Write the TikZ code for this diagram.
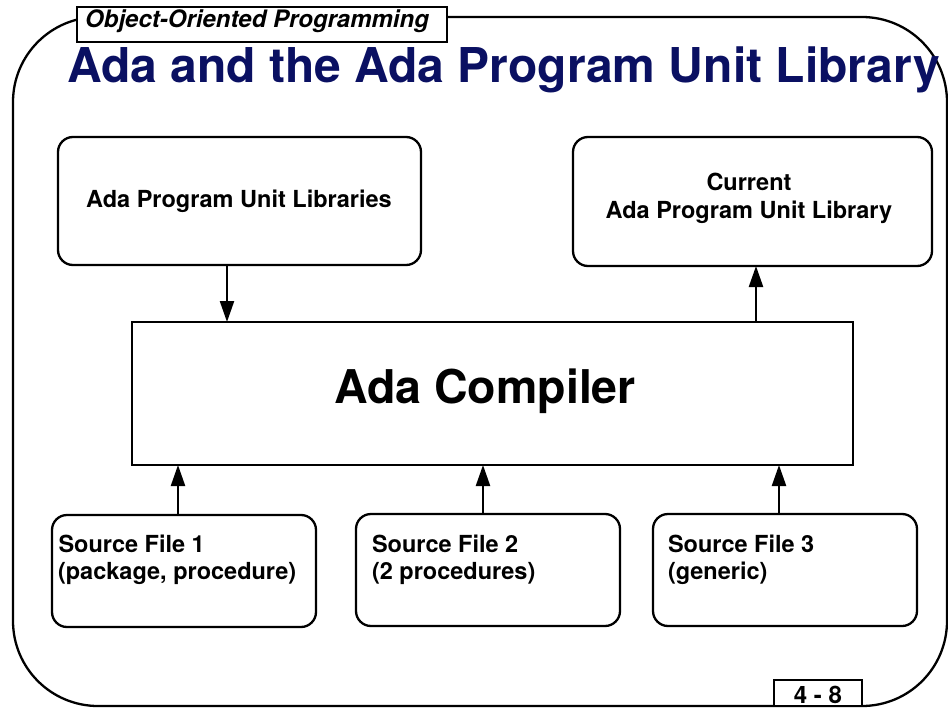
\documentclass[tikz,border=0pt]{standalone}
\usepackage{fontspec}
\setmainfont{TeX Gyre Heros}
\usetikzlibrary{arrows.meta}
\definecolor{titleblue}{RGB}{10,16,98}
\tikzset{
  frameline/.style={draw=black, line width=2.3pt},
  rbox/.style={draw=black, line width=2.3pt, rounded corners=15pt, inner sep=0pt, outer sep=0pt},
  sbox/.style={draw=black, line width=2.3pt, inner sep=0pt, outer sep=0pt},
  tagbox/.style={draw=black, line width=2.3pt, fill=white, inner sep=0pt, outer sep=0pt},
  arr/.style={line width=2.3pt, -{Triangle[length=21pt,width=14pt]}},
  lbl/.style={inner sep=0pt, outer sep=0pt, font=\bfseries\fontsize{23.5}{27}\selectfont},
}
\begin{document}
\begin{tikzpicture}[x=1pt,y=-1pt]
\useasboundingbox (0,0) rectangle (948,709);
% outer frame
\draw[frameline, rounded corners=85pt] (13,17) rectangle (947,706);
% header tag
\node[tagbox, minimum width=370pt, minimum height=35pt] (hdr) at (262,24.5) {};
\node[inner sep=0pt, anchor=base west, font=\bfseries\itshape\fontsize{24}{28}\selectfont] (hdrtext) at (85,28) {Object-Oriented Programming};
% title
\node[inner sep=0pt, anchor=base west, text=titleblue, font=\bfseries\fontsize{48}{56}\selectfont] (title) at (67,83) {Ada and the Ada Program Unit Library};
% boxes
\node[rbox, minimum width=363pt, minimum height=128pt] (lib) at (239.5,201) {};
\node[rbox, minimum width=359pt, minimum height=129pt] (cur) at (752.5,201.5) {};
\node[sbox, minimum width=721pt, minimum height=143pt] (comp) at (492.5,393.5) {};
\node[rbox, minimum width=264pt, minimum height=112pt] (sf1) at (184,571) {};
\node[rbox, minimum width=264pt, minimum height=112pt] (sf2) at (488,570) {};
\node[rbox, minimum width=264pt, minimum height=112pt] (sf3) at (785,570) {};
% texts
\node[lbl, anchor=base] (libt) at (239,207) {Ada Program Unit Libraries};
\node[lbl, anchor=base] (curt1) at (749,190) {Current};
\node[lbl, anchor=base] (curt2) at (749,218) {Ada Program Unit Library};
\node[inner sep=0pt, anchor=base, font=\bfseries\fontsize{46.5}{54}\selectfont] (compt) at (485,403) {Ada Compiler};
\node[lbl, anchor=base west] (sf1a) at (58.5,552) {Source File 1};
\node[lbl, anchor=base west] (sf1b) at (58,579) {(package, procedure)};
\node[lbl, anchor=base west] (sf2a) at (372,552) {Source File 2};
\node[lbl, anchor=base west] (sf2b) at (372,579) {(2 procedures)};
\node[lbl, anchor=base west] (sf3a) at (668,552) {Source File 3};
\node[lbl, anchor=base west] (sf3b) at (668,579) {(generic)};
% arrows
\coordinate (xa) at (227,0);
\coordinate (xb) at (756,0);
\coordinate (xc) at (178,0);
\coordinate (xd) at (483,0);
\coordinate (xe) at (779,0);
\draw[arr] (lib.south -| xa) -- (comp.north -| xa);
\draw[arr] (comp.north -| xb) -- (cur.south -| xb);
\draw[arr] (sf1.north -| xc) -- (comp.south -| xc);
\draw[arr] (sf2.north -| xd) -- (comp.south -| xd);
\draw[arr] (sf3.north -| xe) -- (comp.south -| xe);
% page tag
\node[tagbox, minimum width=88pt, minimum height=26pt] (pg) at (818,693) {};
\node[inner sep=0pt, anchor=base, font=\bfseries\fontsize{24}{28}\selectfont] (pgt) at (818,703) {4 - 8};
\end{tikzpicture}
\end{document}
